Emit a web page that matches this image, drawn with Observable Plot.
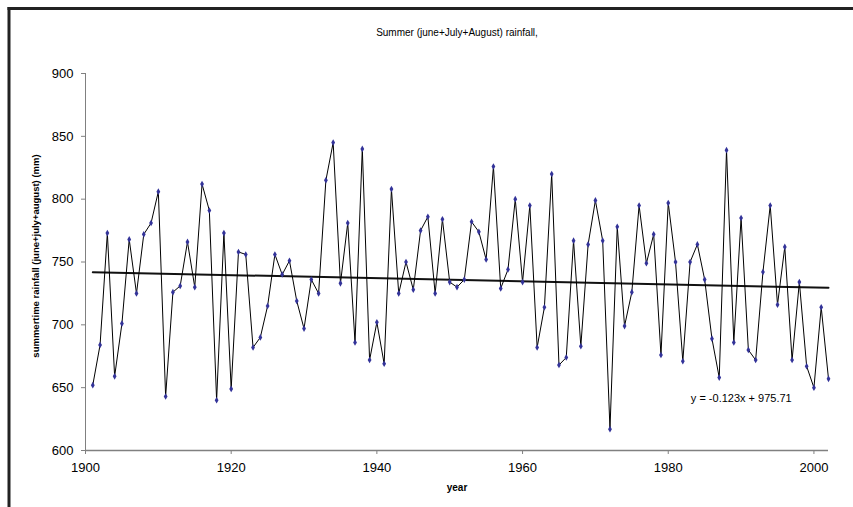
<!DOCTYPE html>
<html>
<head>
<meta charset="utf-8">
<script src="https://cdn.jsdelivr.net/npm/d3@7"></script>
<script src="https://cdn.jsdelivr.net/npm/@observablehq/plot@0.6"></script>
<style>
  html, body { margin: 0; padding: 0; background: #fff; }
  #chart svg { display: block; }
</style>
</head>
<body>
<div id="chart"></div>
<script>
const years = d3.range(1901, 2003);
const rainfall = [
  652, 684, 773, 659, 701, 768, 725, 772, 781, 806,
  643, 726, 731, 766, 730, 812, 791, 640, 773, 649,
  758, 756, 682, 690, 715, 756, 740, 751, 719, 697,
  736, 725, 815, 845, 733, 781, 686, 840, 672, 702,
  669, 808, 725, 750, 728, 775, 786, 725, 784, 734,
  730, 736, 782, 774, 752, 826, 729, 744, 800, 734,
  795, 682, 714, 820, 668, 674, 767, 683, 764, 799,
  767, 617, 778, 699, 726, 795, 749, 772, 676, 797,
  750, 671, 750, 764, 736, 689, 658, 839, 686, 785,
  680, 672, 742, 795, 716, 762, 672, 734, 667, 650,
  714, 657
];
const xTicks = [1900, 1920, 1940, 1960, 1980, 2000];
const yTicks = [600, 650, 700, 750, 800, 850, 900];
const trendSlope = -0.123;
const trendIntercept = 975.71;
const titleText = "Summer (june+July+August) rainfall,";
const yLabel = "summertime rainfall (june+july+august) (mm)";
const xLabel = "year";
const equationText = "y = -0.123x + 975.71";

const data = years.map((y, i) => ({year: y, value: rainfall[i]}));
const trendYears = [years[0], years[years.length - 1]];
const trend = trendYears.map(y => ({year: y, value: trendSlope * y + trendIntercept}));

const W = 853, H = 507;
const chart = Plot.plot({
  width: W,
  height: H,
  marginLeft: 85,
  marginRight: 25,
  marginTop: 73,
  marginBottom: 57,
  style: {fontFamily: "'Liberation Sans', Arial, sans-serif", background: "#fff", color: "#000"},
  x: {domain: [1900, 2002], ticks: xTicks, tickFormat: d => String(d), label: null},
  y: {domain: [600, 900], ticks: yTicks, label: null},
  marks: [
    Plot.ruleX([1900], {stroke: "#808080", strokeWidth: 1}),
    Plot.ruleY([600], {stroke: "#808080", strokeWidth: 1.5}),
    Plot.axisY({ticks: yTicks, tickSize: 4, tickPadding: 8, fontSize: 13, stroke: "#808080", fill: "#000", label: null}),
    Plot.axisX({ticks: xTicks, tickSize: 4, tickPadding: 8, fontSize: 13, stroke: "#808080", fill: "#000", tickFormat: d => String(d), label: null}),
    Plot.line(trend, {x: "year", y: "value", stroke: "#111", strokeWidth: 2}),
    Plot.line(data, {x: "year", y: "value", stroke: "#000", strokeWidth: 1}),
    Plot.dot(data, {x: "year", y: "value", symbol: "diamond", r: 2, fill: "#333399", stroke: "none"}),
    Plot.text([equationText], {x: 1983.1, y: 641.5, text: d => d, textAnchor: "start", fontSize: 11, fill: "#000"}),
    Plot.text([titleText], {frameAnchor: "top", dy: -45, text: d => d, fontSize: 10, fill: "#000"}),
    Plot.text([xLabel], {frameAnchor: "bottom", dy: 40, text: d => d, fontSize: 10, fontWeight: "bold", fill: "#000"}),
    Plot.text([yLabel], {frameAnchor: "left", textAnchor: "middle", dx: -50, dy: -6, rotate: -90, text: d => d, fontSize: 9.5, fontWeight: "bold", fill: "#000"})
  ]
});

const svg = d3.select(chart);
svg.append("line").attr("x1", 9).attr("x2", 9).attr("y1", 7).attr("y2", H).attr("stroke", "#222").attr("stroke-width", 3);
svg.append("line").attr("x1", 7.5).attr("x2", W).attr("y1", 8.5).attr("y2", 8.5).attr("stroke", "#222").attr("stroke-width", 3);
document.getElementById("chart").appendChild(chart);
</script>
</body>
</html>
